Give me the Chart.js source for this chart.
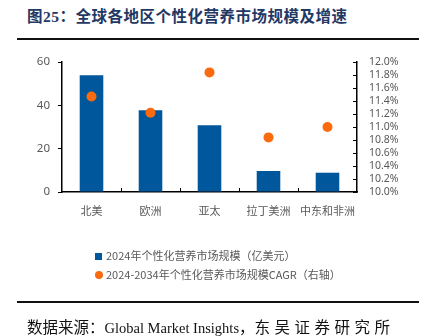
<!DOCTYPE html>
<html>
<head>
<meta charset="utf-8">
<script src="https://cdn.jsdelivr.net/npm/chart.js@4"></script>
<style>
  body { margin: 0; background: #fff; }
  #wrap { position: relative; width: 422px; height: 336px; overflow: hidden; }
  #poll-chart { position: absolute; left: 0; top: 0; }
  .title { position: absolute; left: 27px; top: 4px; font: bold 15.5px "Liberation Serif", "Noto Sans CJK SC", serif; color: #1f3864; letter-spacing: 0.5px; white-space: nowrap; }
  .rule { position: absolute; left: 17px; width: 402px; height: 2px; background: #111; }
  .source { position: absolute; left: 27px; top: 315px; font: 15.5px "Liberation Serif", "Noto Sans CJK SC", serif; color: #111; white-space: nowrap; }
  .source .en { font-size: 14.5px; }
  .source .org { letter-spacing: 4.5px; }
  .legend { position: absolute; left: 95px; top: 247px; font: 11px "Noto Sans CJK SC", sans-serif; color: #595959; }
  .legend div { height: 19px; line-height: 17px; white-space: nowrap; }
  .legend i { display: inline-block; width: 7px; height: 7px; margin-right: 4px; vertical-align: 0px; }
  .legend i.dot { width: 8px; height: 8px; border-radius: 50%; margin-right: 3px; }
</style>
</head>
<body>
<div id="wrap">
  <div class="title">图25：全球各地区个性化营养市场规模及增速</div>
  <div class="rule" style="top:38px"></div>
  <canvas id="poll-chart" width="422" height="336"></canvas>
  <div class="legend" id="legend"></div>
  <div class="rule" style="top:301px"></div>
  <div class="source">数据来源：<span class="en">Global Market Insights</span>，<span class="org">东吴证券研究所</span></div>
</div>
<script>
const regions = ['北美', '欧洲', '亚太', '拉丁美洲', '中东和非洲']
const marketSize = [53.9, 37.7, 30.8, 9.7, 8.9]
const cagr = [11.47, 11.22, 11.84, 10.84, 11.0]
const sizeTicks = [0, 20, 40, 60]
const cagrTicks = [10.0, 10.2, 10.4, 10.6, 10.8, 11.0, 11.2, 11.4, 11.6, 11.8, 12.0]
const seriesNames = ['2024年个性化营养市场规模（亿美元）', '2024-2034年个性化营养市场规模CAGR（右轴）']

const blue = '#00579c'
const orange = '#fb6a0f'
const grey = '#595959'

// small tick marks pointing into the plot (x category edges, right axis)
const innerTicks = {
  id: 'innerTicks',
  afterDraw (chart) {
    const ctx = chart.ctx
    const x = chart.scales.x
    const y1 = chart.scales.y1
    ctx.save()
    ctx.strokeStyle = '#000'
    ctx.lineWidth = 1
    ctx.beginPath()
    for (let i = 0; i < regions.length - 1; i++) {
      const px = Math.round((x.getPixelForValue(i) + x.getPixelForValue(i + 1)) / 2) + 0.5
      ctx.moveTo(px, x.top)
      ctx.lineTo(px, x.top - 4)
    }
    cagrTicks.forEach(v => {
      const py = Math.round(y1.getPixelForValue(v)) + 0.5
      ctx.moveTo(y1.left, py)
      ctx.lineTo(y1.left - 4, py)
    })
    ctx.stroke()
    ctx.restore()
  }
}

const ctx = document.querySelector('#poll-chart').getContext('2d')

const chart = new Chart(ctx, {
  data: {
    labels: regions,
    datasets: [
      {
        type: 'line',
        label: seriesNames[1],
        data: cagr,
        yAxisID: 'y1',
        showLine: false,
        pointRadius: 5,
        pointBackgroundColor: orange,
        pointBorderWidth: 0,
        order: 0
      },
      {
        type: 'bar',
        label: seriesNames[0],
        data: marketSize,
        yAxisID: 'y',
        backgroundColor: blue,
        categoryPercentage: 1,
        barPercentage: 0.4,
        order: 1
      }
    ]
  },
  options: {
    responsive: false,
    animation: false,
    layout: { padding: { top: 62, left: 0, right: 0, bottom: 0 } },
    plugins: { legend: { display: false }, tooltip: { enabled: false } },
    scales: {
      x: {
        offset: true,
        grid: { display: false, drawTicks: false },
        border: { color: '#000', width: 1.5 },
        ticks: { color: grey, font: { size: 11, family: '"Noto Sans CJK SC", sans-serif' }, padding: 12, maxRotation: 0, autoSkip: false },
        afterFit: scale => { scale.height = 144 }
      },
      y: {
        position: 'left',
        min: 0,
        max: 60,
        afterBuildTicks: scale => { scale.ticks = sizeTicks.map(v => ({ value: v })) },
        grid: { drawOnChartArea: false, tickLength: 4, color: '#000' },
        border: { color: '#000', width: 1.5 },
        ticks: { color: grey, font: { size: 11.5, family: '"Noto Sans", sans-serif' }, padding: 8, autoSkip: false },
        afterFit: scale => { scale.width = 62 }
      },
      y1: {
        position: 'right',
        min: 10,
        max: 12,
        afterBuildTicks: scale => { scale.ticks = cagrTicks.map(v => ({ value: v })) },
        grid: { display: false, drawTicks: false },
        border: { color: '#000', width: 1.5 },
        ticks: {
          color: grey,
          font: { size: 10.5, family: '"Noto Sans", sans-serif' },
          padding: 12,
          autoSkip: false,
          callback: v => v.toFixed(1) + '%'
        },
        afterFit: scale => { scale.width = 65 }
      }
    }
  },
  plugins: [innerTicks]
})

// legend built from the dataset labels
const legend = document.querySelector('#legend')
legend.innerHTML =
  '<div><i style="background:' + blue + '"></i>' + seriesNames[0] + '</div>' +
  '<div><i class="dot" style="background:' + orange + '"></i>' + seriesNames[1] + '</div>'
</script>
</body>
</html>
